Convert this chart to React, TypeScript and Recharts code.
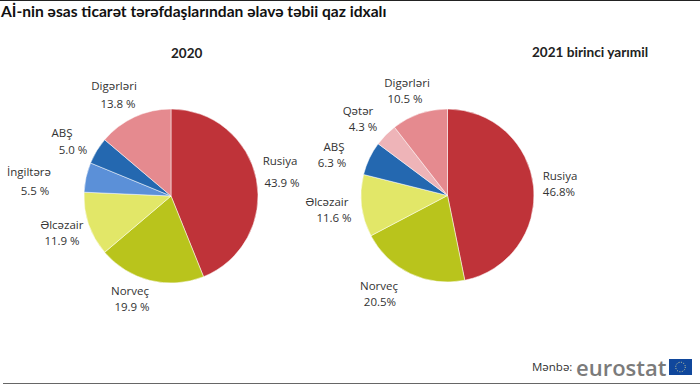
import React from "react";
import { PieChart, Pie, Cell } from "recharts";

const C = {
  rusiya: "#bf3339", norvec: "#b9c41c", elcezair: "#e2e768", ingiltere: "#5b90d8",
  abs: "#2468b0", qeter: "#eeb4b8", diger: "#e58a8f", text: "#333",
};

const names2020 = ["Rusiya", "Norveç", "Əlcəzair", "İngiltərə", "ABŞ", "Digərləri"];
const values2020 = [43.9, 19.9, 11.9, 5.5, 5.0, 13.8];
const valueText2020 = ["43.9 %", "19.9 %", "11.9 %", "5.5 %", "5.0 %", "13.8 %"];
const colors2020 = [C.rusiya, C.norvec, C.elcezair, C.ingiltere, C.abs, C.diger];

const names2021 = ["Rusiya", "Norveç", "Əlcəzair", "ABŞ", "Qətər", "Digərləri"];
const values2021 = [46.8, 20.5, 11.6, 6.3, 4.3, 10.5];
const valueText2021 = ["46.8%", "20.5%", "11.6 %", "6.3 %", "4.3 %", "10.5 %"];
const colors2021 = [C.rusiya, C.norvec, C.elcezair, C.abs, C.qeter, C.diger];

const data2020 = names2020.map((name, i) => ({ name, value: values2020[i] }));
const data2021 = names2021.map((name, i) => ({ name, value: values2021[i] }));

// label places, [name x, name y, value x, value y]
const place2020 = [
  [280, 160, 282, 182], [130, 290, 132, 306], [62, 224, 62, 240],
  [29, 171, 35, 190], [62, 132, 73, 149], [114, 85, 118, 103],
];
const place2021 = [
  [560, 175, 559, 191], [379, 285, 380, 301], [327, 201, 334, 217],
  [334, 146, 332, 162], [358, 110, 363, 126], [407, 82, 405, 98],
];

const labelFont = "'Open Sans', sans-serif";

function makeLabel(place: number[][], texts: string[]) {
  return (p: any) => {
    const [nx, ny, vx, vy] = place[p.index];
    return (
      <g key={p.index} fontFamily={labelFont} fontSize={11.5} fill={C.text} textAnchor="middle" dominantBaseline="central">
        <text x={nx} y={ny}>{p.name}</text>
        <text x={vx} y={vy}>{texts[p.index]}</text>
      </g>
    );
  };
}

const titleFont = "Lato, sans-serif";

export default function App() {
  return (
    <div style={{ position: "absolute", left: 0, top: 0, width: 700, height: 389, background: "#fff", overflow: "hidden", fontFamily: titleFont }}>
      <div style={{ position: "absolute", left: 0, top: 0, width: 700, height: 1, background: "#222" }} />
      <div style={{ position: "absolute", left: 1, top: 2, fontSize: 15.6, fontWeight: 700, color: "#111", whiteSpace: "nowrap" }}>
        Aİ-nin əsas ticarət tərəfdaşlarından əlavə təbii qaz idxalı
      </div>
      <div style={{ position: "absolute", left: 171, top: 45, fontSize: 13.5, fontWeight: 700, color: "#222" }}>2020</div>
      <div style={{ position: "absolute", left: 532, top: 43, fontWeight: 700, color: "#222", whiteSpace: "nowrap", fontSize: 13.7 }}>
        <span style={{ fontSize: 13.5 }}>2021</span> birinci yarımil
      </div>
      <PieChart width={700} height={389} margin={{ top: 0, right: 0, bottom: 0, left: 0 }} style={{ position: "absolute", left: 0, top: 0 }}>
        <Pie data={data2020} dataKey="value" nameKey="name" cx={171} cy={196} outerRadius={87}
          startAngle={90} endAngle={-270} stroke="#fff" strokeWidth={0.5}
          label={makeLabel(place2020, valueText2020)} labelLine={false} isAnimationActive={false}>
          {colors2020.map((c) => <Cell key={c} fill={c} />)}
        </Pie>
        <Pie data={data2021} dataKey="value" nameKey="name" cx={447.5} cy={195.5} outerRadius={86.5}
          startAngle={90} endAngle={-270} stroke="#fff" strokeWidth={0.5}
          label={makeLabel(place2021, valueText2021)} labelLine={false} isAnimationActive={false}>
          {colors2021.map((c) => <Cell key={c} fill={c} />)}
        </Pie>
      </PieChart>
      <div style={{ position: "absolute", left: 532, top: 359, fontSize: 11.5, color: "#333", fontFamily: labelFont }}>Mənbə:</div>
      <div style={{ position: "absolute", left: 576, top: 351, fontSize: 22, fontWeight: 600, color: "#7b7b7b", fontFamily: "'Open Sans', sans-serif", lineHeight: "32px" }}>eurostat</div>
      <svg style={{ position: "absolute", left: 669, top: 359 }} width={23} height={16}>
        <rect width={23} height={16} fill="#10479c" />
        <circle cx={11.5} cy={8} r={4.8} fill="none" stroke="#d9d79a" strokeWidth={1} strokeDasharray="1 1.5" />
      </svg>
      <div style={{ position: "absolute", left: 3, top: 383, width: 697, height: 1, background: "#666" }} />
    </div>
  );
}
